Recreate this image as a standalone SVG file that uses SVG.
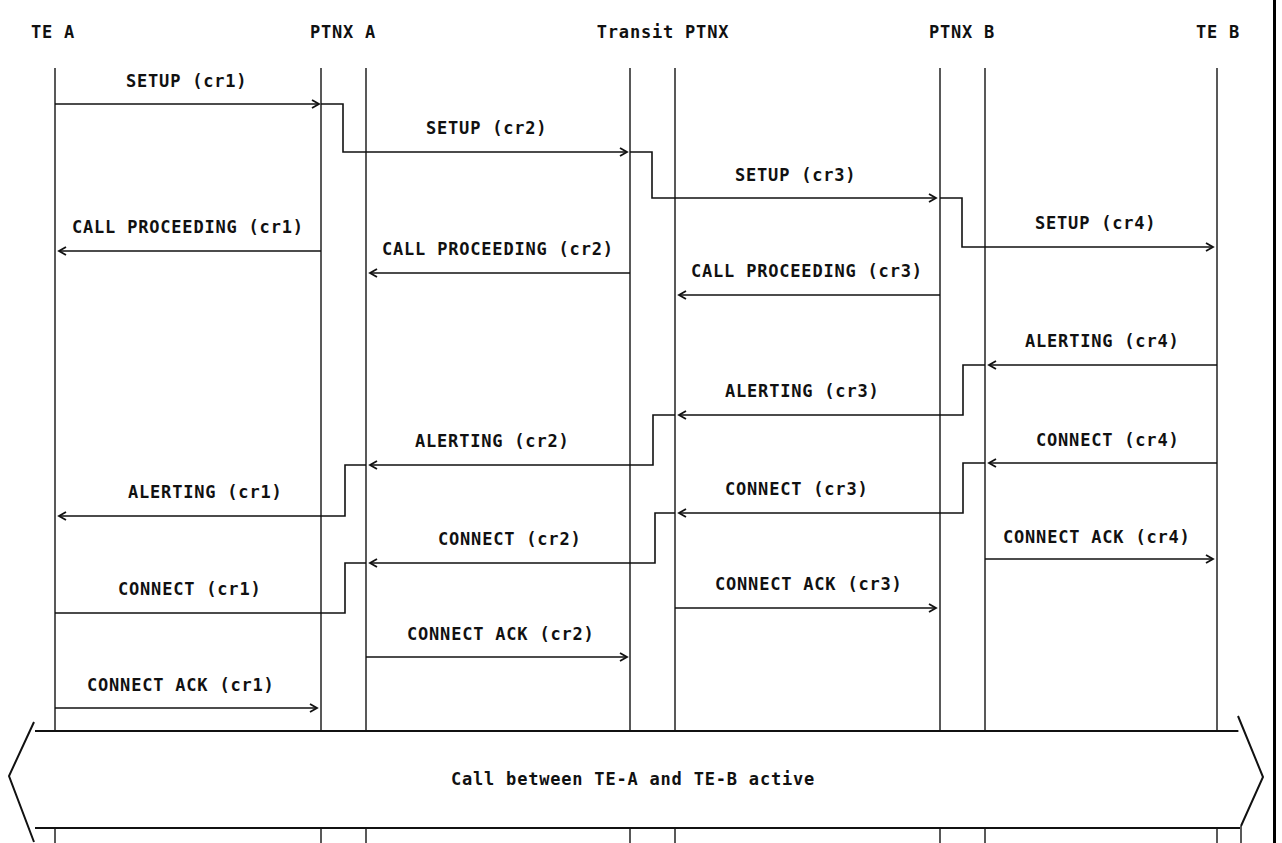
<svg xmlns="http://www.w3.org/2000/svg" width="1282" height="843" viewBox="0 0 1282 843">
<style>
text{font-family:"DejaVu Sans Mono","Liberation Mono",monospace;font-weight:bold;font-size:17px;letter-spacing:0.8px;fill:#111}
.hd{text-anchor:middle}
.life{stroke:#222;stroke-width:1.5;fill:none}
.msg{stroke:#111;stroke-width:1.6;fill:none}
.arr{marker-end:url(#ah)}
.big{stroke:#111;stroke-width:2;fill:#fff}
</style>
<defs>
<marker id="ah" markerUnits="userSpaceOnUse" markerWidth="12" markerHeight="12" refX="9" refY="6" orient="auto">
<path d="M2,2 L9,6 L2,10" fill="none" stroke="#111" stroke-width="1.8"/>
</marker>
</defs>
<rect width="1282" height="843" fill="#fff"/>
<rect x="1273" y="0" width="3" height="843" fill="#000"/>

<g id="te-a">
<text class="hd" x="53" y="38">TE A</text>
<line class="life" x1="55" y1="68" x2="55" y2="731"/>
<line class="life" x1="55" y1="829" x2="55" y2="843"/>
</g>
<g id="ptnx-a">
<text class="hd" x="343" y="38">PTNX A</text>
<line class="life" x1="321" y1="68" x2="321" y2="731"/>
<line class="life" x1="366" y1="68" x2="366" y2="731"/>
<line class="life" x1="321" y1="829" x2="321" y2="843"/>
<line class="life" x1="366" y1="829" x2="366" y2="843"/>
</g>
<g id="transit-ptnx">
<text class="hd" x="663" y="38">Transit PTNX</text>
<line class="life" x1="630" y1="68" x2="630" y2="731"/>
<line class="life" x1="675" y1="68" x2="675" y2="731"/>
<line class="life" x1="630" y1="829" x2="630" y2="843"/>
<line class="life" x1="675" y1="829" x2="675" y2="843"/>
</g>
<g id="ptnx-b">
<text class="hd" x="962" y="38">PTNX B</text>
<line class="life" x1="940" y1="68" x2="940" y2="731"/>
<line class="life" x1="985" y1="68" x2="985" y2="731"/>
<line class="life" x1="940" y1="829" x2="940" y2="843"/>
<line class="life" x1="985" y1="829" x2="985" y2="843"/>
</g>
<g id="te-b">
<text class="hd" x="1218" y="38">TE B</text>
<line class="life" x1="1217" y1="68" x2="1217" y2="731"/>
<line class="life" x1="1217" y1="829" x2="1217" y2="843"/>
<line class="life" x1="1241" y1="826" x2="1241" y2="843"/>
</g>

<g id="connectors">
<path class="msg arr" d="M55,104 H319"/>
<path class="msg arr" d="M321,104 H343 V152 H627"/>
<path class="msg arr" d="M630,152 H652 V198 H936"/>
<path class="msg arr" d="M940,198 H962 V247 H1213"/>
<path class="msg arr" d="M321,251 H59"/>
<path class="msg arr" d="M630,273 H370"/>
<path class="msg arr" d="M940,295 H679"/>
<path class="msg arr" d="M1217,365 H989"/>
<path class="msg arr" d="M985,365 H963 V415 H679"/>
<path class="msg arr" d="M675,415 H653 V465 H370"/>
<path class="msg arr" d="M1217,463 H989"/>
<path class="msg arr" d="M366,465 H345 V516 H59"/>
<path class="msg arr" d="M985,463 H963 V513 H679"/>
<path class="msg arr" d="M985,559 H1213"/>
<path class="msg arr" d="M675,513 H655 V563 H370"/>
<path class="msg" d="M366,563 H345 V613 H55"/>
<path class="msg arr" d="M675,608 H936"/>
<path class="msg arr" d="M366,657 H627"/>
<path class="msg arr" d="M55,708 H317"/>
</g>

<g id="labels">
<text x="126" y="87">SETUP (cr1)</text>
<text x="426" y="134">SETUP (cr2)</text>
<text x="735" y="181">SETUP (cr3)</text>
<text x="1035" y="229">SETUP (cr4)</text>
<text x="72" y="233">CALL PROCEEDING (cr1)</text>
<text x="382" y="255">CALL PROCEEDING (cr2)</text>
<text x="691" y="277">CALL PROCEEDING (cr3)</text>
<text x="1025" y="347">ALERTING (cr4)</text>
<text x="725" y="397">ALERTING (cr3)</text>
<text x="415" y="447">ALERTING (cr2)</text>
<text x="1036" y="446">CONNECT (cr4)</text>
<text x="128" y="498">ALERTING (cr1)</text>
<text x="725" y="495">CONNECT (cr3)</text>
<text x="1003" y="543">CONNECT ACK (cr4)</text>
<text x="438" y="545">CONNECT (cr2)</text>
<text x="118" y="595">CONNECT (cr1)</text>
<text x="715" y="590">CONNECT ACK (cr3)</text>
<text x="407" y="640">CONNECT ACK (cr2)</text>
<text x="87" y="691">CONNECT ACK (cr1)</text>
</g>

<g id="active-call">
<path class="big" d="M35,731 H1240 M35,828 H1240"/>
<polyline class="big" fill="none" points="34,722 9,776 34,842"/>
<polyline class="big" fill="none" points="1238,716 1263,777 1241,826"/>
<text class="hd" x="633" y="785">Call between TE-A and TE-B active</text>
</g>
</svg>
